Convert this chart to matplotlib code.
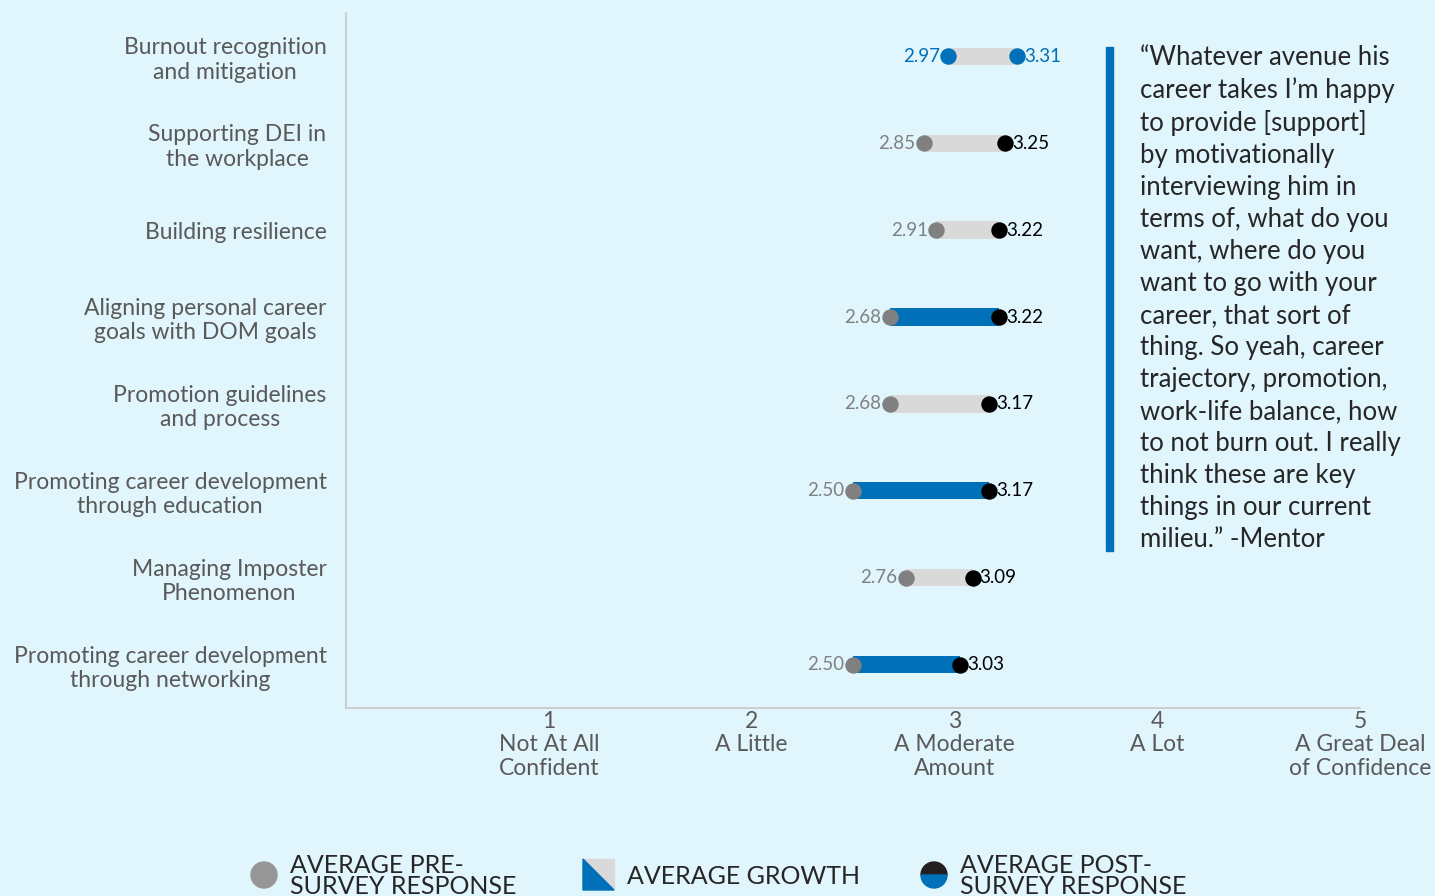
import numpy as np
import matplotlib.pyplot as plt
from matplotlib.patches import Circle, Polygon, Wedge, Rectangle

# ── Data ──────────────────────────────────────────────────────────────
topics = [
    "Burnout recognition\nand mitigation",
    "Supporting DEI in\nthe workplace",
    "Building resilience",
    "Aligning personal career\ngoals with DOM goals",
    "Promotion guidelines\nand process",
    "Promoting career development\nthrough education",
    "Managing Imposter\nPhenomenon",
    "Promoting career development\nthrough networking",
]
pre = [2.97, 2.85, 2.91, 2.68, 2.68, 2.50, 2.76, 2.50]
post = [3.31, 3.25, 3.22, 3.22, 3.17, 3.17, 3.09, 3.03]
big_growth = [False, False, False, True, False, True, False, True]
highlight = [True, False, False, False, False, False, False, False]

tick_vals = [1, 2, 3, 4, 5]
tick_text = ["1\nNot At All\nConfident", "2\nA Little", "3\nA Moderate\nAmount",
             "4\nA Lot", "5\nA Great Deal\nof Confidence"]

quote = ("\u201cWhatever avenue his\ncareer takes I\u2019m happy\nto provide [support]\n"
         "by motivationally\ninterviewing him in\nterms of, what do you\n"
         "want, where do you\nwant to go with your\ncareer, that sort of\n"
         "thing. So yeah, career\ntrajectory, promotion,\nwork-life balance, how\n"
         "to not burn out. I really\nthink these are key\nthings in our current\n"
         "milieu.\u201d -Mentor")

# ── Style ─────────────────────────────────────────────────────────────
BG = '#E1F5FD'
BLUE = '#0070B8'
GREY_BAR = '#D9D9D9'
GREY_DOT = '#808080'
TXT = '#595959'
plt.rcParams['font.family'] = ['Lato', 'DejaVu Sans']

fig = plt.figure(figsize=(14.35, 8.96), dpi=100, facecolor=BG)
W, H = 1435, 896
ax = fig.add_axes([346 / W, (896 - 708) / H, (1360 - 346) / W, (708 - 13) / H])
ax.set_facecolor(BG)

y = np.arange(len(topics))
for i in range(len(topics)):
    col = BLUE if big_growth[i] else GREY_BAR
    ax.barh(y[i], post[i] - pre[i], left=pre[i], height=0.2, color=col, zorder=2)
    pc = BLUE if highlight[i] else GREY_DOT
    qc = BLUE if highlight[i] else 'black'
    ax.scatter(pre[i], y[i], s=140, color=pc, zorder=3, linewidths=0)
    ax.scatter(post[i], y[i], s=140, color=qc, zorder=3, linewidths=0)
    ax.annotate(f"{pre[i]:.2f}", (pre[i], y[i]), xytext=(-6, 0), textcoords='offset points',
                ha='right', va='center', fontsize=13.5, color=pc)
    ax.annotate(f"{post[i]:.2f}", (post[i], y[i]), xytext=(5, 0), textcoords='offset points',
                ha='left', va='center', fontsize=13.5, color=qc)

ax.set_xlim(0, 5)
ax.set_ylim(len(topics) - 0.5, -0.5)
ax.set_yticks(y)
ax.set_yticklabels(topics, fontsize=16.5, color=TXT, multialignment='center')
ax.set_xticks(tick_vals)
ax.set_xticklabels(tick_text, fontsize=16.5, color=TXT, linespacing=1.15)
ax.tick_params(length=0, pad=2)
ax.tick_params(axis='y', pad=14)
for s in ['top', 'right']:
    ax.spines[s].set_visible(False)
for s in ['left', 'bottom']:
    ax.spines[s].set_color('#C8C8C8')
    ax.spines[s].set_linewidth(1.2)

# ── Quote ─────────────────────────────────────────────────────────────
fig.patches.append(Rectangle((1106 / W, (896 - 551) / H), 7 / W, (551 - 47) / H,
                             transform=fig.transFigure, color=BLUE))
fig.text(1140 / W, (896 - 45) / H, quote, fontsize=18.5, color='#262626',
         ha='left', va='top', linespacing=1.35)

# ── Legend ────────────────────────────────────────────────────────────
lax = fig.add_axes([0, 0, 1, 1], facecolor='none')
lax.set_xlim(0, W)
lax.set_ylim(H, 0)
lax.axis('off')
lax.add_patch(Circle((264, 875), 13, color='#969696'))
lax.add_patch(Polygon([(583, 859), (614, 859), (614, 890)], closed=True, color=GREY_BAR))
lax.add_patch(Polygon([(583, 859), (614, 890), (583, 890)], closed=True, color=BLUE))
lax.add_patch(Wedge((934, 875), 13, 180, 360, color='#231F20'))
lax.add_patch(Wedge((934, 875), 13, 0, 180, color=BLUE))
lkw = dict(fontsize=18, color='#262626', va='center', ha='left', linespacing=0.85)
lax.text(290, 876, "AVERAGE PRE-\nSURVEY RESPONSE", **lkw)
lax.text(627, 876, "AVERAGE GROWTH", **lkw)
lax.text(960, 876, "AVERAGE POST-\nSURVEY RESPONSE", **lkw)

fig.savefig('out.png', dpi=100, facecolor=BG)
